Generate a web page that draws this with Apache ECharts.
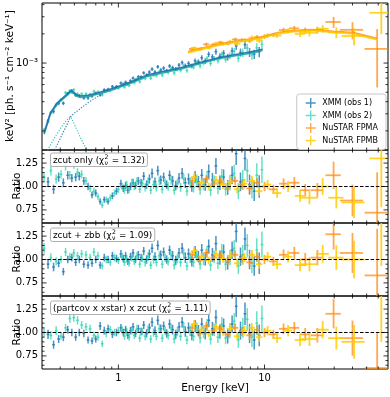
<!DOCTYPE html>
<html>
<head>
<meta charset="utf-8">
<script src="https://cdn.jsdelivr.net/npm/echarts@6/dist/echarts.min.js"></script>
<style>
  html, body { margin: 0; padding: 0; background: #fff; }
  #chart { width: 390px; height: 397px; }
</style>
</head>
<body>
<div id="chart"></div>
<script>
// ---- axis ranges / ticks ----
const X_MIN = 0.3, X_MAX = 70;
const FLUX_MIN = 1.27e-4, FLUX_MAX = 4.16e-3;
const RATIO_MIN = 0.61, RATIO_MAX = 1.39;
const REF_RATIO = 1;
const XMM_BIN = 0.022; // relative half width of the XMM bins

const xTicksMajor = [1, 10];
const xTicksMinor = [0.4, 0.5, 0.6, 0.7, 0.8, 0.9, 2, 3, 4, 5, 6, 7, 8, 9, 20, 30, 40, 50, 60];
const fluxTicksMajor = [1e-3];
const fluxTicksMinor = [2e-4, 3e-4, 4e-4, 5e-4, 6e-4, 7e-4, 8e-4, 9e-4, 2e-3, 3e-3, 4e-3];
const ratioTicksMajor = [0.75, 1.0, 1.25];
const ratioTicksMinor = [0.65, 0.7, 0.8, 0.85, 0.9, 0.95, 1.05, 1.1, 1.15, 1.2, 1.3, 1.35];

// ---- XMM obs 1 ----
const xmm1E = [0.33,0.36,0.39,0.42,0.45,0.48,0.51,0.54,0.58,0.62,0.66,0.70,0.75,0.80,0.85,0.91,0.97,
  1.04,1.08,1.12,1.16,1.21,1.26,1.31,1.37,1.43,1.49,1.56,1.63,1.70,1.78,1.86,1.95,2.04,2.14,2.24,2.35,2.47,2.6,
  2.73,2.87,3.02,3.18,3.35,3.53,3.72,3.93,4.15,4.4,4.65,4.95,5.25,5.6,6.0,6.4,6.85,7.35,7.9,8.5,9.2];
const xmm1Flux = [2.52e-4,3.17e-4,3.84e-4,3.85e-4,4.85e-4,5.2e-4,4.66e-4,4.6e-4,4.37e-4,4.37e-4,4.56e-4,4.88e-4,4.7e-4,5.3e-4,5.35e-4,5.72e-4,5.71e-4,
  6.22e-4,6.04e-4,6.34e-4,6.1e-4,6.56e-4,6.99e-4,6.69e-4,7.23e-4,7.22e-4,7.92e-4,7.49e-4,8.07e-4,8.65e-4,8.09e-4,9.15e-4,8.48e-4,8.86e-4,8.34e-4,9.32e-4,8.95e-4,8.67e-4,9.52e-4,
  1.011e-3,9.37e-4,9.92e-4,9.35e-4,1.053e-3,1.03e-3,1.133e-3,1.05e-3,1.231e-3,1.155e-3,1.31e-3,1.173e-3,1.264e-3,1.154e-3,1.331e-3,1.5e-3,1.288e-3,1.549e-3,1.29e-3,1.237e-3,1.306e-3];
const xmm1Err = [0.05,0.05,0.045,0.045,0.04,0.04,0.04,0.04,0.04,0.04,0.04,0.04,0.04,0.04,0.04,0.04,0.04,
  0.04,0.04,0.04,0.04,0.04,0.04,0.04,0.04,0.04,0.04,0.045,0.045,0.045,0.045,0.045,0.045,0.045,0.045,0.045,0.05,0.05,0.05,
  0.05,0.055,0.055,0.055,0.06,0.06,0.06,0.065,0.065,0.07,0.07,0.075,0.075,0.08,0.085,0.09,0.095,0.1,0.105,0.11,0.12];
const xmm1R1 = [1.05,0.97,1.10,1.04,1.12,1.09,1.10,1.11,1.06,1.0,0.91,0.93,0.84,0.86,0.84,0.9,0.95,
  1.03,0.98,1.01,0.96,1.0,1.04,1.01,1.06,1.04,1.11,1.02,1.08,1.14,1.05,1.17,1.07,1.1,1.02,1.12,1.06,1.01,1.09,
  1.14,1.04,1.08,1.0,1.1,1.05,1.12,1.02,1.16,1.07,1.22,1.04,1.1,0.99,1.12,1.35,1.05,1.3,1.02,0.95,1.0];
const xmm1R2 = [0.95,0.92,0.96,0.87,1.0,1.02,0.97,1.0,0.95,0.94,0.96,1.0,0.94,1.02,1.0,1.04,1.01,
  1.06,1.01,1.04,0.98,1.03,1.07,1.0,1.05,1.02,1.09,1.0,1.06,1.12,1.03,1.15,1.05,1.08,1.0,1.1,1.04,0.99,1.07,
  1.12,1.02,1.06,0.98,1.08,1.03,1.1,1.0,1.14,1.05,1.17,1.02,1.08,0.97,1.1,1.3,1.03,1.22,1.0,0.93,0.96];
const xmm1R3 = [0.98,0.87,0.93,0.95,1.03,1.0,0.95,1.0,0.99,0.92,0.91,0.93,1.07,1.02,1.04,0.98,1.0,
  1.05,1.0,1.03,0.97,1.02,1.06,0.99,1.04,1.01,1.08,0.99,1.05,1.11,1.02,1.13,1.04,1.07,0.99,1.09,1.03,0.98,1.06,
  1.11,1.01,1.05,0.97,1.07,1.02,1.09,0.99,1.13,1.04,1.16,1.01,1.07,0.96,1.09,1.28,1.02,1.2,0.99,0.92,0.97];

// ---- XMM obs 2 ----
const xmm2E = [0.31,0.345,0.375,0.405,0.435,0.465,0.495,0.525,0.56,0.6,0.64,0.68,0.725,0.775,0.825,0.88,0.94,
  1.0,1.06,1.1,1.14,1.185,1.235,1.285,1.34,1.4,1.46,1.525,1.595,1.665,1.74,1.82,1.905,1.995,2.09,2.19,2.295,2.41,2.535,
  2.665,2.8,2.945,3.1,3.265,3.44,3.625,3.825,4.04,4.275,4.525,4.8,5.1,5.42,5.8,6.2,6.62,7.1,7.62,8.2,8.85,9.6];
const xmm2Flux = [2.05e-4,3.1e-4,3.7e-4,4.2e-4,4.95e-4,5.2e-4,5.3e-4,4.8e-4,4.8e-4,4.8e-4,4.75e-4,5.1e-4,5.05e-4,4.7e-4,5.2e-4,5.2e-4,5.5e-4,
  5.52e-4,5.92e-4,5.68e-4,6.04e-4,5.87e-4,6.39e-4,6.28e-4,6.85e-4,6.43e-4,7.02e-4,6.95e-4,7.55e-4,6.99e-4,7.56e-4,7.43e-4,8.09e-4,7.51e-4,8.18e-4,8.0e-4,8.69e-4,7.92e-4,8.66e-4,
  8.44e-4,9.37e-4,8.37e-4,9.35e-4,9.08e-4,1.006e-3,9.36e-4,1.009e-3,1.116e-3,9.94e-4,1.109e-3,1.057e-3,1.226e-3,1.088e-3,1.187e-3,1.325e-3,1.119e-3,1.283e-3,1.428e-3,1.215e-3,1.436e-3,1.558e-3];
const xmm2Err = [0.05,0.045,0.045,0.04,0.04,0.04,0.04,0.04,0.04,0.04,0.04,0.04,0.04,0.04,0.04,0.04,0.04,
  0.04,0.04,0.04,0.04,0.04,0.04,0.04,0.04,0.04,0.04,0.045,0.045,0.045,0.045,0.045,0.045,0.045,0.045,0.045,0.045,0.05,0.05,
  0.05,0.05,0.05,0.055,0.055,0.055,0.06,0.06,0.06,0.065,0.065,0.065,0.07,0.07,0.08,0.08,0.09,0.1,0.105,0.11,0.115,0.12];
const xmm2R1 = [1.1,1.17,1.08,1.13,1.22,1.12,1.24,1.15,1.13,1.06,0.98,0.95,0.89,0.8,0.86,0.88,0.93,
  0.97,1.0,0.96,1.02,0.97,1.04,1.0,1.06,0.97,1.03,0.99,1.05,0.96,1.02,0.99,1.06,0.97,1.04,1.0,1.07,0.96,1.03,
  0.99,1.08,0.95,1.04,0.99,1.07,0.97,1.02,1.1,0.96,1.05,0.98,1.11,0.97,1.04,1.14,0.95,1.07,1.17,0.98,1.12,1.18];
const xmm2R2 = [1.12,1.02,0.98,1.0,1.08,1.03,1.07,1.04,1.06,1.05,1.02,1.08,1.04,0.93,1.0,0.97,1.02,
  0.99,1.03,0.97,1.01,0.96,1.02,0.98,1.04,0.95,1.01,0.97,1.03,0.94,1.0,0.97,1.04,0.95,1.02,0.98,1.05,0.94,1.01,
  0.97,1.06,0.93,1.02,0.97,1.05,0.95,1.0,1.08,0.94,1.03,0.96,1.09,0.95,1.02,1.12,0.93,1.05,1.15,0.96,1.1,1.16];
const xmm2R3 = [1.0,0.97,1.02,0.96,1.05,1.15,1.16,1.13,1.08,1.06,1.04,0.97,0.95,0.88,0.99,1.03,1.0,
  1.02,1.03,0.96,1.01,0.95,1.02,0.97,1.04,0.94,1.01,0.96,1.03,0.93,1.0,0.96,1.04,0.94,1.02,0.97,1.05,0.93,1.01,
  0.96,1.06,0.92,1.02,0.96,1.05,0.94,1.0,1.08,0.93,1.03,0.95,1.09,0.94,1.02,1.12,0.92,1.05,1.14,0.95,1.1,1.15];

// ---- NuSTAR FPMA ----
const fpmaE = [3.2,3.6,4.0,4.5,5.0,5.6,6.3,7.0,7.9,8.9,10.0,11.5,13.5,16,19,23,29.7,40,59];
const fpmaFlux = [1.40e-3,1.39e-3,1.56e-3,1.55e-3,1.63e-3,1.59e-3,1.75e-3,1.73e-3,1.70e-3,1.85e-3,1.87e-3,1.95e-3,2.19e-3,2.28e-3,2.17e-3,2.19e-3,2.65e-3,2.2e-3,1.4e-3];
const fpmaErr = [0.04,0.04,0.04,0.04,0.04,0.04,0.045,0.045,0.05,0.05,0.05,0.05,0.055,0.06,0.07,0.08,0.13,0.2,0.6];
const fpmaBin = [0.05,0.05,0.05,0.05,0.05,0.05,0.05,0.05,0.05,0.05,0.06,0.07,0.07,0.08,0.08,0.1,0.12,0.18,0.18];
const fpmaR1 = [1.06,1.0,1.08,1.03,1.05,0.99,1.06,1.02,0.98,1.04,1.0,0.97,1.03,1.04,0.96,0.96,1.12,0.85,0.72];
const fpmaR2 = [1.05,0.99,1.07,1.02,1.04,0.98,1.05,1.01,0.97,1.03,1.0,0.98,1.05,1.07,1.0,1.02,1.27,1.07,0.83];
const fpmaR3 = [1.05,0.99,1.07,1.02,1.04,0.98,1.05,1.01,0.97,1.03,1.0,0.98,1.04,1.05,0.98,0.97,1.2,0.94,0.62];

// ---- NuSTAR FPMB ----
const fpmbE = [3.3,3.7,4.15,4.65,5.2,5.8,6.5,7.3,8.2,9.2,10.5,12.2,14.5,17.5,20.3,25,31,41,63];
const fpmbFlux = [1.43e-3,1.41e-3,1.44e-3,1.59e-3,1.58e-3,1.66e-3,1.58e-3,1.72e-3,1.83e-3,1.70e-3,1.93e-3,1.92e-3,2.16e-3,2.0e-3,2.05e-3,2.26e-3,2.07e-3,1.9e-3,3.3e-3];
const fpmbErr = [0.04,0.04,0.04,0.04,0.045,0.045,0.045,0.05,0.05,0.05,0.05,0.055,0.06,0.07,0.08,0.09,0.13,0.2,0.4];
const fpmbBin = [0.05,0.05,0.05,0.05,0.05,0.05,0.05,0.05,0.05,0.05,0.06,0.07,0.07,0.08,0.14,0.1,0.12,0.18,0.17];
const fpmbR1 = [1.1,1.04,1.0,1.07,1.02,1.05,0.97,1.03,1.06,0.95,1.02,0.93,1.0,0.9,0.88,1.0,0.88,0.83,1.3];
const fpmbR2 = [1.09,1.03,0.99,1.06,1.01,1.04,0.96,1.02,1.05,0.95,1.03,0.95,1.03,0.94,0.95,1.06,1.02,1.0,1.55];
const fpmbR3 = [1.09,1.03,0.99,1.06,1.01,1.04,0.96,1.02,1.05,0.95,1.02,0.94,1.02,0.92,0.93,1.03,0.94,0.9,1.5];

// ---- models ----
const xmmModelE = [0.31,0.342,0.38,0.422,0.469,0.494,0.521,0.549,0.62,0.715,0.82,0.929,1.05,1.21,1.39,1.57,1.94,2.3,2.79,3.5,4.76,6.2,8.02,9.7];
const xmm1ModelV = [1.9e-4,3.05e-4,3.87e-4,4.46e-4,5.14e-4,5.02e-4,4.68e-4,4.57e-4,4.65e-4,4.91e-4,5.2e-4,5.52e-4,5.9e-4,6.37e-4,6.95e-4,7.52e-4,8.07e-4,8.55e-4,9.09e-4,1.0e-3,1.13e-3,1.22e-3,1.3e-3,1.39e-3];
const xmm2ModelV = [1.85e-4,2.96e-4,3.76e-4,4.33e-4,4.99e-4,4.87e-4,4.54e-4,4.43e-4,4.51e-4,4.76e-4,5.04e-4,5.35e-4,5.72e-4,6.18e-4,6.74e-4,7.29e-4,7.83e-4,8.29e-4,8.82e-4,9.7e-4,1.1e-3,1.18e-3,1.26e-3,1.35e-3];
const nuModelE = [3.0,4.0,5.0,6.3,8.0,9.4,12.3,16,20.7,25,29.7,40.7,50,59.4];
const fpmaModelV = [1.31e-3,1.46e-3,1.57e-3,1.67e-3,1.76e-3,1.83e-3,2.05e-3,2.15e-3,2.2e-3,2.17e-3,2.12e-3,2.05e-3,1.9e-3,1.78e-3];
const fpmbModelV = [1.28e-3,1.43e-3,1.54e-3,1.64e-3,1.73e-3,1.8e-3,2.01e-3,2.11e-3,2.16e-3,2.13e-3,2.08e-3,2.01e-3,1.86e-3,1.74e-3];
// model components (dotted)
const bbodyE = [0.31,0.34,0.37,0.40,0.43,0.455,0.47,0.49,0.52,0.55,0.58,0.62,0.66];
const bbodyV = [1.05e-4,1.4e-4,1.75e-4,2.1e-4,2.45e-4,2.7e-4,2.8e-4,2.5e-4,2.05e-4,1.7e-4,1.45e-4,1.2e-4,1.0e-4];
const powlE = [0.36,0.39,0.42,0.45,0.47,0.5,0.55,0.62,0.7,0.8,0.9,1.0];
const powlV = [1.2e-4,1.55e-4,1.95e-4,2.4e-4,2.8e-4,3.05e-4,3.4e-4,3.9e-4,4.4e-4,4.95e-4,5.4e-4,5.75e-4];

const panelLabels = [
  { pre: 'zcut only (', post: ' = 1.32)' },
  { pre: 'zcut + zbb (', post: ' = 1.09)' },
  { pre: '(partcov x xstar) x zcut (', post: ' = 1.11)' }
];

// ---- styling ----
const FONT = 'DejaVu Sans';
const C_XMM1 = 'rgba(31,119,180,0.8)';
const C_XMM2 = 'rgba(38,212,172,0.7)';
const C_FPMA = 'rgba(255,140,20,0.75)';
const C_FPMB = 'rgba(255,205,0,0.85)';
const NAMES = ['XMM (obs 1)', 'XMM (obs 2)', 'NuSTAR FPMA', 'NuSTAR FPMB'];

const zip = (a, b) => a.map((v, i) => [v, b[i]]);

function errData(E, val, rel, bin) {
  return E.map((e, i) => [e, val[i], val[i] * rel[i], Array.isArray(bin) ? bin[i] : bin]);
}

function errRender(color, lw) {
  return function (params, api) {
    const cs = params.coordSys;
    const L = cs.x, R = cs.x + cs.width, T = cs.y, B = cs.y + cs.height;
    const e = api.value(0), v = api.value(1), err = api.value(2), bw = api.value(3);
    const c = api.coord([e, v]);
    const left = api.coord([e * (1 - bw), v])[0];
    const right = api.coord([e * (1 + bw), v])[0];
    let top = api.coord([e, v + err])[1];
    let bot = api.coord([e, Math.max(v - err, 1e-7)])[1];
    if (!isFinite(bot)) bot = B + 10;
    const cy = y => Math.min(Math.max(y, T), B);
    const kids = [];
    const st = { stroke: color, lineWidth: lw };
    if (!(top > B || bot < T) && c[0] >= L && c[0] <= R) {
      kids.push({ type: 'line', shape: { x1: c[0], y1: cy(top), x2: c[0], y2: cy(bot) }, style: st });
    }
    if (c[1] >= T && c[1] <= B) {
      kids.push({ type: 'line', shape: { x1: Math.max(left, L), y1: c[1], x2: Math.min(right, R), y2: c[1] }, style: st });
    }
    return { type: 'group', children: kids };
  };
}

function errSeries(name, gi, data, color, lw) {
  return {
    name: name, type: 'custom', xAxisIndex: gi, yAxisIndex: gi,
    itemStyle: { color: color }, z: 2, silent: true,
    encode: { x: 0, y: 1 },
    data: data, renderItem: errRender(color, lw)
  };
}

function tickSeries(gi, yMaj, yMin, yRef) {
  return {
    type: 'custom', xAxisIndex: gi, yAxisIndex: gi, silent: true, z: 10,
    data: [[1, yRef]],
    renderItem: function (params, api) {
      const cs = params.coordSys;
      const L = cs.x, R = cs.x + cs.width, T = cs.y, B = cs.y + cs.height;
      const kids = [];
      const add = (x1, y1, x2, y2) => kids.push({ type: 'line', shape: { x1, y1, x2, y2 }, style: { stroke: '#000', lineWidth: 0.8 } });
      const xt = (vals, len) => vals.forEach(v => { const p = api.coord([v, yRef])[0]; add(p, B, p, B - len); add(p, T, p, T + len); });
      const yt = (vals, len) => vals.forEach(v => { const p = api.coord([1, v])[1]; add(L, p, L + len, p); add(R, p, R - len, p); });
      xt(xTicksMajor, 4.5); xt(xTicksMinor, 2.5);
      yt(yMaj, 4.5); yt(yMin, 2.5);
      return { type: 'group', children: kids };
    }
  };
}

const grids = [
  { left: 42, right: 2, top: 3, height: 147 },
  { left: 42, right: 2, top: 150, height: 73 },
  { left: 42, right: 2, top: 223, height: 73 },
  { left: 42, right: 2, top: 296, height: 73 }
].map(g => Object.assign(g, { show: true, borderColor: '#000', borderWidth: 1, backgroundColor: 'transparent', outerBoundsMode: 'none' }));

const xAxes = [0, 1, 2, 3].map(i => ({
  type: 'log', logBase: 10, gridIndex: i, min: X_MIN, max: X_MAX,
  axisLine: { show: false }, axisTick: { show: false }, splitLine: { show: false },
  axisLabel: {
    show: i === 3, fontSize: 10, fontFamily: FONT, color: '#000', margin: 4,
    showMinLabel: false, showMaxLabel: false,
    formatter: v => (Math.abs(v - 1) < 1e-6 ? '1' : Math.abs(v - 10) < 1e-5 ? '10' : '')
  }
}));

const yAxes = [{
  type: 'log', logBase: 10, gridIndex: 0, min: FLUX_MIN, max: FLUX_MAX,
  axisLine: { show: false }, axisTick: { show: false }, splitLine: { show: false },
  axisLabel: {
    fontSize: 10, fontFamily: FONT, color: '#000', margin: 4,
    formatter: v => (Math.abs(v / 1e-3 - 1) < 1e-6 ? '10\u207B\u00B3' : '')
  }
}].concat([1, 2, 3].map(i => ({
  type: 'value', gridIndex: i, min: RATIO_MIN, max: RATIO_MAX,
  axisLine: { show: false }, axisTick: { show: false }, splitLine: { show: false },
  axisLabel: {
    fontSize: 10, fontFamily: FONT, color: '#000', margin: 4,
    customValues: ratioTicksMajor,
    formatter: v => (ratioTicksMajor.some(t => Math.abs(t - v) < 1e-6) ? v.toFixed(2) : '')
  }
})));

const LW_XMM = 1.5, LW_NU = 1.8;
const series = [];
// main panel data
series.push(errSeries(NAMES[0], 0, errData(xmm1E, xmm1Flux, xmm1Err, XMM_BIN), C_XMM1, LW_XMM));
series.push(errSeries(NAMES[1], 0, errData(xmm2E, xmm2Flux, xmm2Err, XMM_BIN), C_XMM2, LW_XMM));
series.push(errSeries(NAMES[2], 0, errData(fpmaE, fpmaFlux, fpmaErr, fpmaBin), C_FPMA, LW_NU));
series.push(errSeries(NAMES[3], 0, errData(fpmbE, fpmbFlux, fpmbErr, fpmbBin), C_FPMB, LW_NU));
// main panel models
const lineS = (data, color, w, type, z) => ({
  type: 'line', xAxisIndex: 0, yAxisIndex: 0, data: data, showSymbol: false, symbol: 'none',
  silent: true, z: z || 3, lineStyle: { color: color, width: w, type: type || 'solid' }
});
series.push(lineS(zip(bbodyE, bbodyV), 'rgba(38,190,180,0.9)', 1.2, [1.2, 1.6]));
series.push(lineS(zip(powlE, powlV), 'rgba(31,119,180,0.9)', 1.2, [1.2, 1.6]));
series.push(lineS(zip(xmmModelE, xmm2ModelV), 'rgba(30,170,160,0.9)', 1.6));
series.push(lineS(zip(xmmModelE, xmm1ModelV), 'rgba(31,110,175,0.9)', 1.6));
series.push(lineS(zip(nuModelE, fpmaModelV), 'rgba(255,140,20,0.8)', 2));
series.push(lineS(zip(nuModelE, fpmbModelV), 'rgba(255,200,0,0.8)', 2));

// ratio panels
const ratioSets = [
  [xmm1R1, xmm2R1, fpmaR1, fpmbR1],
  [xmm1R2, xmm2R2, fpmaR2, fpmbR2],
  [xmm1R3, xmm2R3, fpmaR3, fpmbR3]
];
ratioSets.forEach((rs, k) => {
  const gi = k + 1;
  series.push(errSeries(NAMES[0], gi, errData(xmm1E, rs[0], xmm1Err, XMM_BIN), C_XMM1, LW_XMM));
  series.push(errSeries(NAMES[1], gi, errData(xmm2E, rs[1], xmm2Err, XMM_BIN), C_XMM2, LW_XMM));
  series.push(errSeries(NAMES[2], gi, errData(fpmaE, rs[2], fpmaErr, fpmaBin), C_FPMA, LW_NU));
  series.push(errSeries(NAMES[3], gi, errData(fpmbE, rs[3], fpmbErr, fpmbBin), C_FPMB, LW_NU));
  series.push({
    type: 'line', xAxisIndex: gi, yAxisIndex: gi, data: [[X_MIN, REF_RATIO], [X_MAX, REF_RATIO]],
    showSymbol: false, symbol: 'none', silent: true, z: 4,
    lineStyle: { color: '#000', width: 1, type: [3.5, 1.8] }
  });
});

// ticks
series.push(tickSeries(0, fluxTicksMajor, fluxTicksMinor, 1e-3));
[1, 2, 3].forEach(gi => series.push(tickSeries(gi, ratioTicksMajor, ratioTicksMinor, 1)));

// ---- text boxes in ratio panels ----
const mctx = document.createElement('canvas').getContext('2d');
function tw(s, size) { mctx.font = size + 'px "' + FONT + '"'; return mctx.measureText(s).width; }
const boxTops = [153, 228, 301];
const graphics = [];
panelLabels.forEach((lab, k) => {
  const fs = 8.8, sm = 6.2, pad = 2.5, x0 = 50.5, H = 13.5, top = boxTops[k];
  const w1 = tw(lab.pre + '\u03C7', fs);
  const ws = tw('2', sm) + 0.8;
  const w2 = tw(lab.post, fs);
  const cyy = top + H / 2;
  const txt = (t, x, y, size) => ({ type: 'text', x: x, y: y, z: 101, silent: true,
    style: { text: t, fontSize: size, fontFamily: FONT, fill: '#000', verticalAlign: 'middle', align: 'left' } });
  graphics.push({ type: 'rect', z: 100, silent: true,
    shape: { x: x0, y: top, width: w1 + ws + w2 + pad * 2, height: H, r: 2 },
    style: { fill: 'rgba(255,255,255,0.85)', stroke: '#b0b0b0', lineWidth: 1 } });
  graphics.push(txt(lab.pre + '\u03C7', x0 + pad, cyy + 0.5, fs));
  graphics.push(txt('2', x0 + pad + w1 + 0.4, cyy - 2.8, sm));
  graphics.push(txt('\u03BD', x0 + pad + w1 + 0.4, cyy + 3.2, sm));
  graphics.push(txt(lab.post, x0 + pad + w1 + ws, cyy + 0.5, fs));
});
// axis titles
const titleText = (t, x, y, rot) => ({ type: 'text', x: x, y: y, rotation: rot, silent: true, z: 100,
  style: { text: t, fontSize: 10.5, fontFamily: FONT, fill: '#000', align: 'center', verticalAlign: 'middle' } });
graphics.push(titleText('keV\u00B2 [ph. s\u207B\u00B9 cm\u207B\u00B2 keV\u207B\u00B9]', 10, 76, Math.PI / 2));
graphics.push(titleText('Ratio', 17, 186, Math.PI / 2));
graphics.push(titleText('Ratio', 17, 259, Math.PI / 2));
graphics.push(titleText('Ratio', 17, 332, Math.PI / 2));
graphics.push(titleText('Energy [keV]', 215, 388, 0));

const crossIcon = 'path://M0,4.3H10V5.7H0Z M4.3,0H5.7V10H4.3Z';

const chart = echarts.init(document.getElementById('chart'), null, { renderer: 'canvas' });
chart.setOption({
  animation: false,
  backgroundColor: '#fff',
  textStyle: { fontFamily: FONT },
  grid: grids,
  xAxis: xAxes,
  yAxis: yAxes,
  legend: {
    orient: 'vertical', right: 4, top: 94, itemWidth: 13, itemHeight: 10, itemGap: 2.5,
    padding: [4, 8, 4, 9], backgroundColor: 'rgba(255,255,255,0.85)', borderColor: '#c8c8c8',
    borderWidth: 1, borderRadius: 3, selectedMode: false,
    textStyle: { fontSize: 8, fontFamily: FONT, color: '#000' },
    data: NAMES.map(n => ({ name: n, icon: crossIcon }))
  },
  series: series,
  graphic: graphics
});
</script>
</body>
</html>
